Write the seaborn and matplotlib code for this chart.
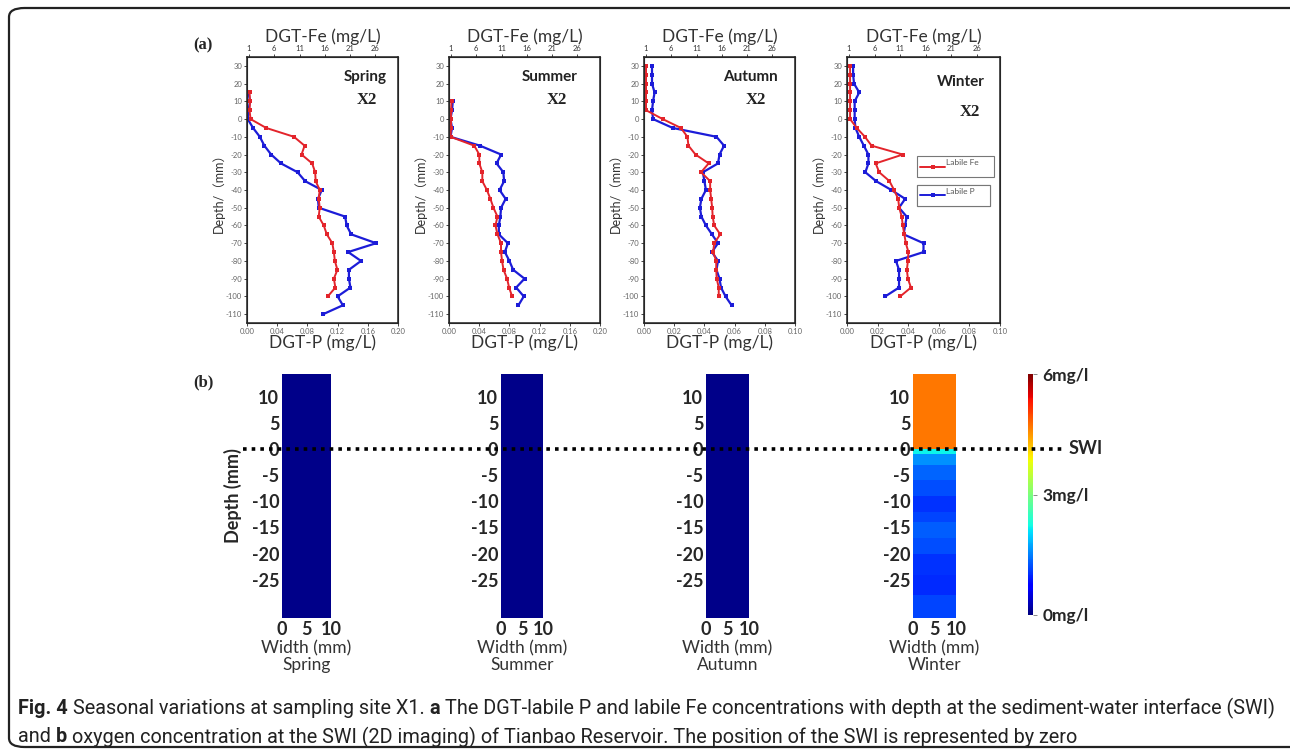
import numpy as np
import matplotlib
matplotlib.use("Agg")
import matplotlib.pyplot as plt
import matplotlib.transforms as mtransforms
from matplotlib.patches import FancyBboxPatch
from matplotlib.lines import Line2D
from matplotlib.cm import ScalarMappable
from matplotlib.colors import Normalize
import seaborn as sns

sns.set_style("ticks")
plt.rcParams['font.family'] = ['Lato', 'Noto Sans CJK SC', 'DejaVu Sans']
plt.rcParams['axes.unicode_minus'] = False

W, H = 1290, 753

seasons = ["Spring", "Summer", "Autumn", "Winter"]

# ---- (a) DGT profiles ----
spring_depth_p = list(range(15, -115, -5))
spring_p = [0.002, 0.004, 0.002, 0.001, 0.008, 0.017, 0.023, 0.032, 0.045, 0.067,
            0.077, 0.099, 0.094, 0.095, 0.130, 0.132, 0.138, 0.171, 0.134, 0.151,
            0.135, 0.135, 0.137, 0.120, 0.127, 0.101]
spring_depth_fe = list(range(15, -105, -5))
spring_fe = [1.1, 1.2, 1.1, 1.3, 4.4, 9.9, 12.0, 11.4, 13.5, 14.1, 14.2, 15.0,
             14.8, 15.0, 14.8, 15.8, 16.4, 17.5, 17.8, 18.0, 18.5, 17.8, 18.1, 16.6]

summer_depth_p = list(range(10, -110, -5))
summer_p = [0.005, 0.004, 0.002, 0.004, 0.002, 0.041, 0.069, 0.063, 0.072, 0.073,
            0.067, 0.075, 0.069, 0.068, 0.066, 0.066, 0.078, 0.074, 0.080, 0.085,
            0.100, 0.089, 0.099, 0.092]
summer_depth_fe = list(range(10, -105, -5))
summer_fe = [1.1, 1.0, 1.0, 1.0, 0.9, 5.6, 6.6, 6.6, 7.2, 7.2, 8.1, 8.8, 9.4,
             10.2, 9.8, 10.2, 10.9, 10.9, 11.1, 11.4, 12.1, 12.5, 13.1]

autumn_depth_p = list(range(30, -110, -5))
autumn_p = [0.0053, 0.0053, 0.0053, 0.007, 0.006, 0.0053, 0.006, 0.019, 0.048, 0.053,
            0.050, 0.049, 0.039, 0.040, 0.041, 0.038, 0.037, 0.038, 0.041, 0.045,
            0.049, 0.045, 0.049, 0.048, 0.050, 0.051, 0.054, 0.058]
autumn_depth_fe = list(range(30, -105, -5))
autumn_fe = [1.0, 1.0, 1.0, 1.0, 1.0, 1.0, 4.3, 7.9, 9.2, 9.4, 10.8, 13.4, 11.9,
             13.7, 13.7, 13.9, 14.1, 14.2, 14.5, 15.7, 14.5, 14.3, 14.9, 14.9,
             15.0, 15.4, 15.4]

winter_depth_p = list(range(30, -105, -5))
winter_p = [0.004, 0.004, 0.0046, 0.008, 0.005, 0.005, 0.005, 0.0055, 0.008, 0.011,
            0.014, 0.014, 0.012, 0.019, 0.029, 0.038, 0.034, 0.039, 0.038, 0.037,
            0.050, 0.050, 0.032, 0.034, 0.034, 0.034, 0.025]
winter_depth_fe = list(range(30, -105, -5))
winter_fe = [1.2, 1.2, 1.2, 1.2, 1.2, 1.2, 1.2, 2.5, 4.1, 5.4, 11.5, 6.2, 6.9,
             8.9, 9.8, 10.6, 10.8, 11.3, 11.5, 11.8, 12.1, 12.6, 12.5, 12.3,
             12.5, 13.1, 11.0]

profiles = [
    (spring_depth_p, spring_p, spring_depth_fe, spring_fe),
    (summer_depth_p, summer_p, summer_depth_fe, summer_fe),
    (autumn_depth_p, autumn_p, autumn_depth_fe, autumn_fe),
    (winter_depth_p, winter_p, winter_depth_fe, winter_fe),
]
p_max = [0.20, 0.20, 0.10, 0.10]
p_ticks = [np.arange(0, 0.201, 0.04), np.arange(0, 0.201, 0.04),
           np.arange(0, 0.101, 0.02), np.arange(0, 0.101, 0.02)]
fe_ticks = [1, 6, 11, 16, 21, 26]
depth_ticks = list(range(30, -111, -10))

# ---- (b) O2 imaging (band edges from top to bottom, mg/l per band) ----
width_mm = [0, 10]
spring_o2_edges = [14.3, -32.3]
spring_o2 = [0.05]
summer_o2_edges = [14.3, -32.3]
summer_o2 = [0.05]
autumn_o2_edges = [14.3, -32.3]
autumn_o2 = [0.05]
winter_o2_edges = [14.3, 0, -1, -3, -6, -9, -12, -14, -17, -20, -24, -28, -32.3]
winter_o2 = [4.7, 2.2, 1.6, 1.35, 1.2, 1.05, 1.15, 1.3, 1.2, 1.05, 1.0, 1.15]
o2_images = [(spring_o2_edges, spring_o2), (summer_o2_edges, summer_o2),
             (autumn_o2_edges, autumn_o2), (winter_o2_edges, winter_o2)]
o2_ticks = [0, 3, 6]
o2_ticklabels = ["0mg/l", "3mg/l", "6mg/l"]

RED = "#e3242b"
BLUE = "#1c1cd8"


def box(l, t, r, b):
    return [l / W, 1 - b / H, (r - l) / W, (b - t) / H]


fig = plt.figure(figsize=(W / 100, H / 100), dpi=100)

# outer rounded frame
frame = FancyBboxPatch((9 / W, 6 / H), (W + 10) / W, (H - 14) / H,
                       boxstyle="round,pad=0,rounding_size=0.012",
                       transform=fig.transFigure, fill=False,
                       edgecolor="#222222", linewidth=1.6, clip_on=False)
fig.patches.append(frame)

a_left = [247, 449, 644, 847]
a_right = [398, 600, 795, 1000]
a_top, a_bot = 57, 323
lab_right = [387, 578, 778, 985]
x2_center = [367, 557, 756, 970]
lab_y = [77, 77, 77, 82]
x2_y = [100, 100, 100, 112]

for i, (dp, pv, dfe, fev) in enumerate(profiles):
    ax = fig.add_axes(box(a_left[i], a_top, a_right[i], a_bot))
    sns.lineplot(x=pv, y=dp, orient="y", sort=False, estimator=None, ax=ax,
                 color=BLUE, lw=1.6, marker="s", markersize=3.2,
                 markeredgewidth=0, legend=False)
    ax.set_xlim(0, p_max[i])
    ax.set_ylim(-115, 35)
    ax.set_xticks(p_ticks[i])
    ax.set_xticklabels([f"{v:.2f}" for v in p_ticks[i]])
    ax.set_yticks(depth_ticks)
    ax.tick_params(labelsize=5.5, labelcolor="#666666", length=2, width=0.6,
                   pad=1.5)
    ax.set_xlabel("")
    ax.set_ylabel("Depth/（mm）", fontsize=9, color="#333333", labelpad=1)
    for s in ax.spines.values():
        s.set_linewidth(1.1)
        s.set_color("#222222")

    axt = ax.twiny()
    sns.lineplot(x=fev, y=dfe, orient="y", sort=False, estimator=None, ax=axt,
                 color=RED, lw=1.4, marker="s", markersize=2.8,
                 markeredgewidth=0, legend=False)
    axt.set_xlim(0.6, 30.5)
    axt.set_ylim(-115, 35)
    axt.set_xticks(fe_ticks)
    axt.tick_params(labelsize=5.5, labelcolor="#333333", length=2, width=0.6,
                    pad=1.5)
    axt.set_xlabel("")
    axt.set_ylabel("")

    cx = (a_left[i] + a_right[i]) / 2 / W
    fig.text(cx, 1 - 37 / H, "DGT-Fe (mg/L)", ha="center", va="center",
             fontsize=12.5, color="#333333")
    fig.text(cx, 1 - 343 / H, "DGT-P (mg/L)", ha="center", va="center",
             fontsize=12.5, color="#333333")
    fig.text(lab_right[i] / W, 1 - lab_y[i] / H, seasons[i], ha="right",
             va="center", fontsize=11, fontweight="bold", color="#222222")
    fig.text(x2_center[i] / W, 1 - x2_y[i] / H, "X2", ha="center", va="center",
             fontsize=12, fontweight="bold", family="Liberation Serif",
             color="#222222")

    if i == 3:
        h_fe = Line2D([], [], color=RED, lw=1.4, marker="s", markersize=2.8,
                      markeredgewidth=0)
        h_p = Line2D([], [], color=BLUE, lw=1.4, marker="s", markersize=2.8,
                     markeredgewidth=0)
        for hnd, txt, top in [(h_fe, "Labile Fe", 0.627), (h_p, "Labile P", 0.52)]:
            leg = axt.legend([hnd], [txt + "      \n"], loc="upper left",
                             bbox_to_anchor=(0.46, top), fontsize=6,
                             frameon=True, fancybox=False, edgecolor="#777777",
                             framealpha=1, handlelength=3.0, handletextpad=0.1,
                             borderpad=0.35, borderaxespad=0)
            for t in leg.get_texts():
                t.set_color("#555555")
            leg.get_frame().set_linewidth(0.8)
            axt.add_artist(leg)

fig.text(203 / W, 1 - 45 / H, "(a)", ha="center", va="center", fontsize=12,
         fontweight="bold", family="Liberation Serif")
fig.text(203 / W, 1 - 382 / H, "(b)", ha="center", va="center", fontsize=12,
         fontweight="bold", family="Liberation Serif")

# ---- (b) ----
cmap = plt.get_cmap("jet")
norm = Normalize(0, 6)
b_left = [282, 501, 706, 913]
b_right = [331, 543, 749, 956]
b_top, b_bot = 374, 618
b_axes = []
for i, (edges, vals) in enumerate(o2_images):
    ax = fig.add_axes(box(b_left[i], b_top, b_right[i], b_bot))
    ax.pcolormesh(width_mm, edges, np.array(vals)[:, None], cmap=cmap,
                  norm=norm, shading="flat")
    ax.set_xlim(0, 10)
    ax.set_ylim(-32.3, 14.3)
    ax.set_xticks([0, 5, 10])
    ax.set_yticks([10, 5, 0, -5, -10, -15, -20, -25])
    ax.tick_params(length=0, labelsize=13, pad=2)
    for lab in ax.get_xticklabels() + ax.get_yticklabels():
        lab.set_fontweight("bold")
    for s in ax.spines.values():
        s.set_visible(False)
    ax.set_xlabel("Width (mm)\n" + seasons[i], fontsize=12.5, color="#333333",
                  labelpad=2, linespacing=1.0)
    if i == 0:
        ax.set_ylabel("Depth (mm)", fontsize=13, fontweight="bold", labelpad=7)
    b_axes.append(ax)

# SWI dotted line across all panels
ax0 = b_axes[0]
trans = mtransforms.blended_transform_factory(fig.transFigure, ax0.transData)
swi = Line2D([243 / W, 1062 / W], [0, 0], transform=trans, color="black",
             lw=2.6, linestyle=(0, (1, 1.4)), clip_on=False, zorder=10)
fig.add_artist(swi)
fig.text(1069 / W, 1 - 448 / H, "SWI", ha="left", va="center", fontsize=13,
         fontweight="bold")

cax = fig.add_axes(box(1028, 374, 1033, 615))
cb = fig.colorbar(ScalarMappable(norm=norm, cmap=cmap), cax=cax)
cb.set_ticks(o2_ticks)
cb.set_ticklabels(o2_ticklabels)
cb.outline.set_visible(False)
cax.tick_params(length=3, width=0.6, labelsize=12.5, pad=4, color="#777777")
for lab in cax.get_yticklabels():
    lab.set_fontweight("bold")

# ---- caption ----
fig.canvas.draw()
renderer = fig.canvas.get_renderer()
cap_font = ["Roboto", "DejaVu Sans"]
line1 = [("Fig. 4", True),
         ("Seasonal variations at sampling site X1.", False),
         ("a", True),
         ("The DGT-labile P and labile Fe concentrations with depth at the sediment-water interface (SWI)", False)]
line2 = [("and", False), ("b", True),
         ("oxygen concentration at the SWI (2D imaging) of Tianbao Reservoir. The position of the SWI is represented by zero", False)]


def text_width(s, weight, size):
    t = fig.text(0, 0, s, fontsize=size, fontweight=weight, family=cap_font)
    w = t.get_window_extent(renderer).width
    t.remove()
    return w


def runs_width(runs, size):
    sp = text_width("x x", "normal", size) - text_width("xx", "normal", size)
    return sum(text_width(s, "bold" if b else "normal", size) for s, b in runs) \
        + sp * (len(runs) - 1)


cap_size = 13.0 * 1257 / runs_width(line1, 13.0)
space_w = text_width("x x", "normal", cap_size) - text_width("xx", "normal", cap_size)


def draw_runs(x_px, y_px, runs):
    for s, bold in runs:
        w = "bold" if bold else "normal"
        t = fig.text(x_px / W, 1 - y_px / H, s, fontsize=cap_size, fontweight=w,
                     family=cap_font, va="center", ha="left", color="#222222")
        x_px += t.get_window_extent(renderer).width + space_w


draw_runs(18, 708, line1)
draw_runs(18, 737, line2)

fig.savefig("out.png", dpi=100)
